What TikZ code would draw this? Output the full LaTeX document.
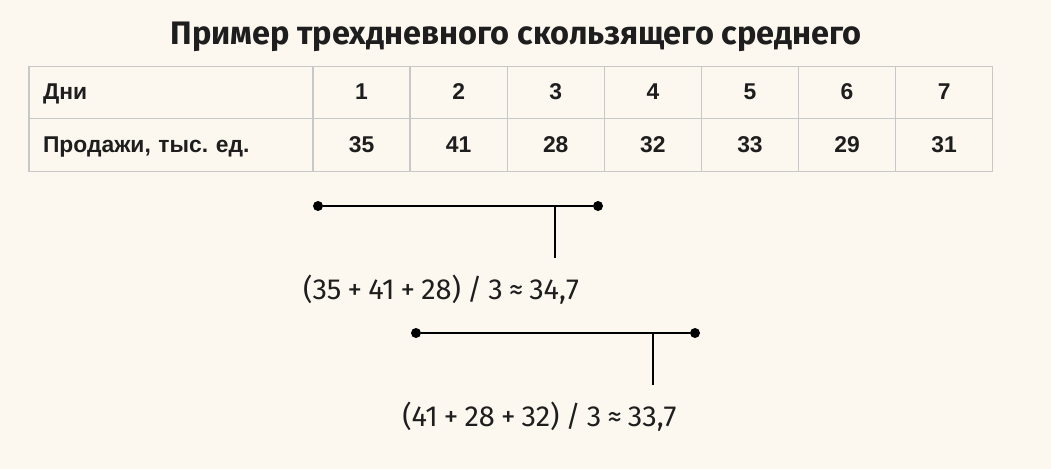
\documentclass[tikz,border=0pt]{standalone}
\usepackage{fontspec}
\setmainfont{Fira Sans}
\newfontfamily\tabfont{Liberation Sans}
\newfontfamily\formfont{Fira Sans}[WordSpace=0.8]
\usetikzlibrary{positioning}
\definecolor{paper}{HTML}{FDF8EF}
\definecolor{gridline}{HTML}{C8C8C8}
\definecolor{ink}{HTML}{1E1E1E}
\frenchspacing

\begin{document}
\begin{tikzpicture}[x=0.02cm,y=-0.02cm]
        \tikzstyle{headcell}=[draw=gridline, line width=0.7pt, outer sep=0pt, inner sep=0pt, minimum width=5.68cm, minimum height=1.05cm, text height=10pt, text depth=2pt, font=\tabfont\bfseries\fontsize{13}{15}\selectfont, text=ink];
        \tikzstyle{cell}=[headcell, minimum width=1.9425cm];
        \tikzstyle{dot}=[circle, fill=black, inner sep=0pt, minimum size=0.2cm];
        \tikzstyle{bar}=[line width=1.2pt];
        \tikzstyle{formula}=[font=\formfont\fontsize{16.5}{20}\selectfont, text=ink];
        \fill[paper] (0,0) rectangle (1051,469);
        \useasboundingbox (0,0) rectangle (1051,469);
        \node[font=\bfseries\fontsize{18.5}{22}\selectfont, text=ink] (title) at (516,37) {Пример трехдневного скользящего среднего};
        % table
        \node[headcell, text width=5.12cm, align=left] (days) at (171,92.5) {Дни};
        \node[headcell, text width=5.12cm, align=left, below = 0mm of days] (sales) {Продажи, тыс. ед.};
        \node[right = 0mm of days,cell] (d1) {1};
        \node[right = 0mm of d1,cell] (d2) {2};
        \node[right = 0mm of d2,cell] (d3) {3};
        \node[right = 0mm of d3,cell] (d4) {4};
        \node[right = 0mm of d4,cell] (d5) {5};
        \node[right = 0mm of d5,cell] (d6) {6};
        \node[right = 0mm of d6,cell] (d7) {7};
        \node[right = 0mm of sales,cell] (s1) {35};
        \node[right = 0mm of s1,cell] (s2) {41};
        \node[right = 0mm of s2,cell] (s3) {28};
        \node[right = 0mm of s3,cell] (s4) {32};
        \node[right = 0mm of s4,cell] (s5) {33};
        \node[right = 0mm of s5,cell] (s6) {29};
        \node[right = 0mm of s6,cell] (s7) {31};
        % first window
        \node[dot] (a1) at (318,206) {};
        \node[dot] (a2) at (598,206) {};
        \coordinate (a3) at (555,206);
        \coordinate (a4) at (555,258);
        \draw[bar] (a1) -- (a2);
        \draw[bar] (a3) -- (a4);
        \node[formula] (f1) at (441,290) {(35 + 41 + 28) / 3 ≈ 34,7};
        % second window
        \node[dot] (b1) at (416,333) {};
        \node[dot] (b2) at (695,333) {};
        \coordinate (b3) at (653,333);
        \coordinate (b4) at (653,385);
        \draw[bar] (b1) -- (b2);
        \draw[bar] (b3) -- (b4);
        \node[formula] (f2) at (539.5,417) {(41 + 28 + 32) / 3 ≈ 33,7};
    \end{tikzpicture}
\end{document}
